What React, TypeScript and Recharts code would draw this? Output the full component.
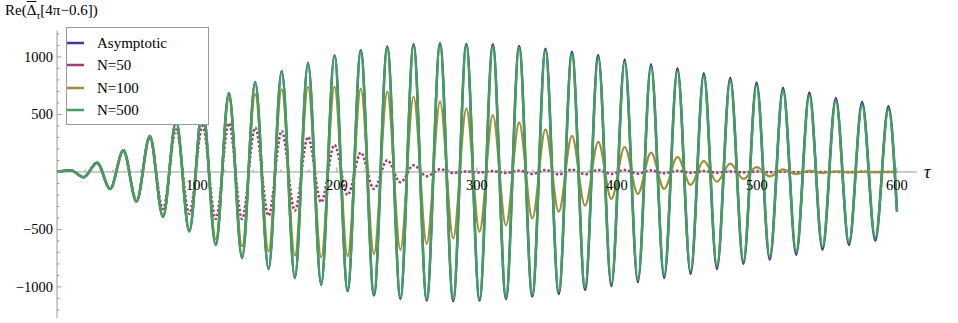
import { LineChart, Line, XAxis, YAxis, ReferenceLine, Legend } from 'recharts'

// extremes of the oscillation (tau positions of peaks / troughs)
const tau = [0, 9.7, 19.1, 28.6, 38.0, 47.4, 56.8, 66.3, 75.7, 85.1, 94.5, 104.0, 113.4, 122.8, 132.2, 141.6, 151.1, 160.5, 169.9, 179.3, 188.7, 198.2, 207.6, 217.0, 226.4, 235.9, 245.3, 254.7, 264.1, 273.6, 283.0, 292.4, 301.8, 311.3, 320.7, 330.1, 339.5, 348.9, 358.4, 367.8, 377.2, 386.6, 396.0, 405.5, 414.9, 424.3, 433.7, 443.2, 452.6, 462.0, 471.4, 480.9, 490.3, 499.7, 509.1, 518.6, 528.0, 537.4, 546.8, 556.3, 565.7, 575.1, 584.5, 593.9, 600]

const asymptotic = [0,
  15, -46, 81, -148, 189, -258, 313, -389, 440, -516, 565, -635, 687, -748, 783, -845, 878, -922, 950, -983,
  1015, -1035, 1058, -1075, 1090, -1104, 1110, -1119, 1119, -1124, 1113, -1119, 1110, -1104, 1096, -1084,
  1072, -1061, 1046, -1026, 1017, -994, 978, -959, 937, -922, 902, -887, 858, -843, 820, -800, 777, -763,
  733, -719, 690, -676, 643, -635, 609, -597, 571,
  -345]

const n50 = [0,
  15, -46, 81, -148, 186, -250, 300, -322, 370, -365, 400, -409, 423, -409, 385, -380, 357, -336, 304, -263,
  235, -200, 168, -148, 102, -90, 58, -37, 23, -9, 5, -5, 8, -10, 12, -18, 18, -22, 20, -20, 18, -18,
  18, -15, 14, -12, 10, -8, 8, -6, 5, -4, 4, -3, 3, -2, 2, -1, 1, -1, 1, 0, 0,
  0]

const n100 = [0,
  15, -46, 81, -148, 189, -258, 313, -385, 438, -505, 555, -583, 640, -646, 676, -690, 719, -728, 739, -742,
  742, -733, 724, -713, 698, -678, 654, -626, 609, -577, 550, -519, 493, -464, 429, -403, 371, -345,
  313, -293, 261, -235, 217, -191, 168, -148, 130, -113, 96, -85, 72, -61, 43, -38, 23, -20, 9, -9,
  4, -4, 2, -2, 1,
  0]

const n500 = [0,
  15, -46, 81, -148, 189, -258, 313, -389, 440, -516, 565, -635, 687, -747, 781, -843, 874, -918, 944, -977,
  1007, -1027, 1048, -1066, 1079, -1093, 1098, -1107, 1106, -1110, 1099, -1104, 1094, -1088, 1079, -1066,
  1054, -1042, 1026, -1006, 996, -972, 956, -936, 914, -898, 878, -862, 833, -818, 794, -774, 751, -737,
  706, -693, 663, -650, 616, -609, 582, -571, 544,
  -340]

const xTicks = [20, 40, 60, 80, 100, 120, 140, 160, 180, 200, 220, 240, 260, 280, 300, 320, 340, 360, 380, 400, 420, 440, 460, 480, 500, 520, 540, 560, 580, 600]
const yTicks = [-1200, -1100, -1000, -900, -800, -700, -600, -500, -400, -300, -200, -100, 0, 100, 200, 300, 400, 500, 600, 700, 800, 900, 1000, 1100, 1200]

const seriesNames = ['Asymptotic', 'N=50', 'N=100', 'N=500']
const seriesKeys = ['asymptotic', 'n50', 'n100', 'n500']
const colors = ['#3b3ba0', '#a03c78', '#a08c3a', '#41a05c']

const data = tau.map((t, i) => ({
  tau: t,
  asymptotic: asymptotic[i],
  n50: n50[i],
  n100: n100[i],
  n500: n500[i],
}))

const FONT = '"Liberation Serif", "DejaVu Serif", serif'
const Y_MIN = -1270
const Y_MAX = 1230
const TOP = 30.5
const PLOT_H = 287.5
const AXIS_X = 57
const zeroY = TOP + PLOT_H * (Y_MAX / (Y_MAX - Y_MIN))

const fmt = (v: number) => (v < 0 ? '\u2212' + Math.abs(v) : String(v))

const XTick = (props: any) => {
  const { x, payload } = props
  const major = payload.value % 100 === 0
  return (
    <g>
      <line x1={x} x2={x} y1={zeroY} y2={zeroY - (major ? 4.5 : 2.5)} stroke="#999" />
      {major && (
        <text x={x} y={zeroY + 18} textAnchor="middle" style={{ fontFamily: FONT, fontSize: 14.5 }} fill="#000">
          {payload.value}
        </text>
      )}
    </g>
  )
}

const YTick = (props: any) => {
  const { y, payload } = props
  const v = payload.value
  const major = v % 500 === 0
  return (
    <g>
      <line x1={AXIS_X} x2={AXIS_X + (major ? 4.5 : 2.5)} y1={y} y2={y} stroke="#999" />
      {major && v !== 0 && (
        <text x={AXIS_X - 4} y={y + 5} textAnchor="end" style={{ fontFamily: FONT, fontSize: 14.5 }} fill="#000">
          {fmt(v)}
        </text>
      )}
    </g>
  )
}

const renderLegend = () => (
  <div style={{ width: 143, height: 98, border: '1px solid #999', background: '#fff', boxSizing: 'border-box', paddingTop: 4, fontFamily: FONT, fontSize: 15 }}>
    {seriesNames.map((n, i) => (
      <div key={n} style={{ display: 'flex', alignItems: 'center', height: 22.3 }}>
        <svg width={30} height={6} style={{ display: 'block' }}>
          <line x1={0} x2={17} y1={3} y2={3} stroke={colors[i]} strokeWidth={2.5} />
        </svg>
        <span style={{ lineHeight: '16px' }}>{n}</span>
      </div>
    ))}
  </div>
)

export default function App() {
  return (
    <div style={{ position: 'absolute', left: 0, top: 0, width: 958, height: 323, background: '#fff' }}>
      <LineChart width={958} height={323} data={data} margin={{ top: TOP, right: 41, bottom: 0, left: 0 }}>
        <XAxis dataKey="tau" type="number" domain={[0, 614.3]} ticks={xTicks} interval={0}
          height={5} axisLine={false} tickLine={false} tick={<XTick />} />
        <YAxis type="number" domain={[Y_MIN, Y_MAX]} ticks={yTicks} interval={0} width={AXIS_X}
          axisLine={{ stroke: '#999' }} tickLine={false} tick={<YTick />} />
        <ReferenceLine y={0} stroke="#999" strokeWidth={1} />
        <Legend layout="vertical" align="center" verticalAlign="middle" content={renderLegend}
          wrapperStyle={{ position: 'absolute', left: 66, top: 27, width: 143, height: 98 }} />
        {seriesKeys.map((k, i) => (
          <Line key={k} type="monotone" dataKey={k} name={seriesNames[i]} stroke={colors[i]}
            strokeWidth={k === 'n100' ? 2.2 : 2.5} strokeDasharray={k === 'n50' ? '2.5 2' : undefined}
            dot={false} activeDot={false} isAnimationActive={false} />
        ))}
      </LineChart>
      <div style={{ position: 'absolute', left: 5, top: 2, fontFamily: FONT, fontSize: 15, whiteSpace: 'nowrap' }}>
        Re(<span style={{ textDecoration: 'overline' }}>Δ</span><sub style={{ fontSize: 10 }}>τ</sub>[4π−0.6])
      </div>
      <div style={{ position: 'absolute', left: 924, top: 162, fontFamily: FONT, fontSize: 18, fontStyle: 'italic' }}>τ</div>
    </div>
  )
}
